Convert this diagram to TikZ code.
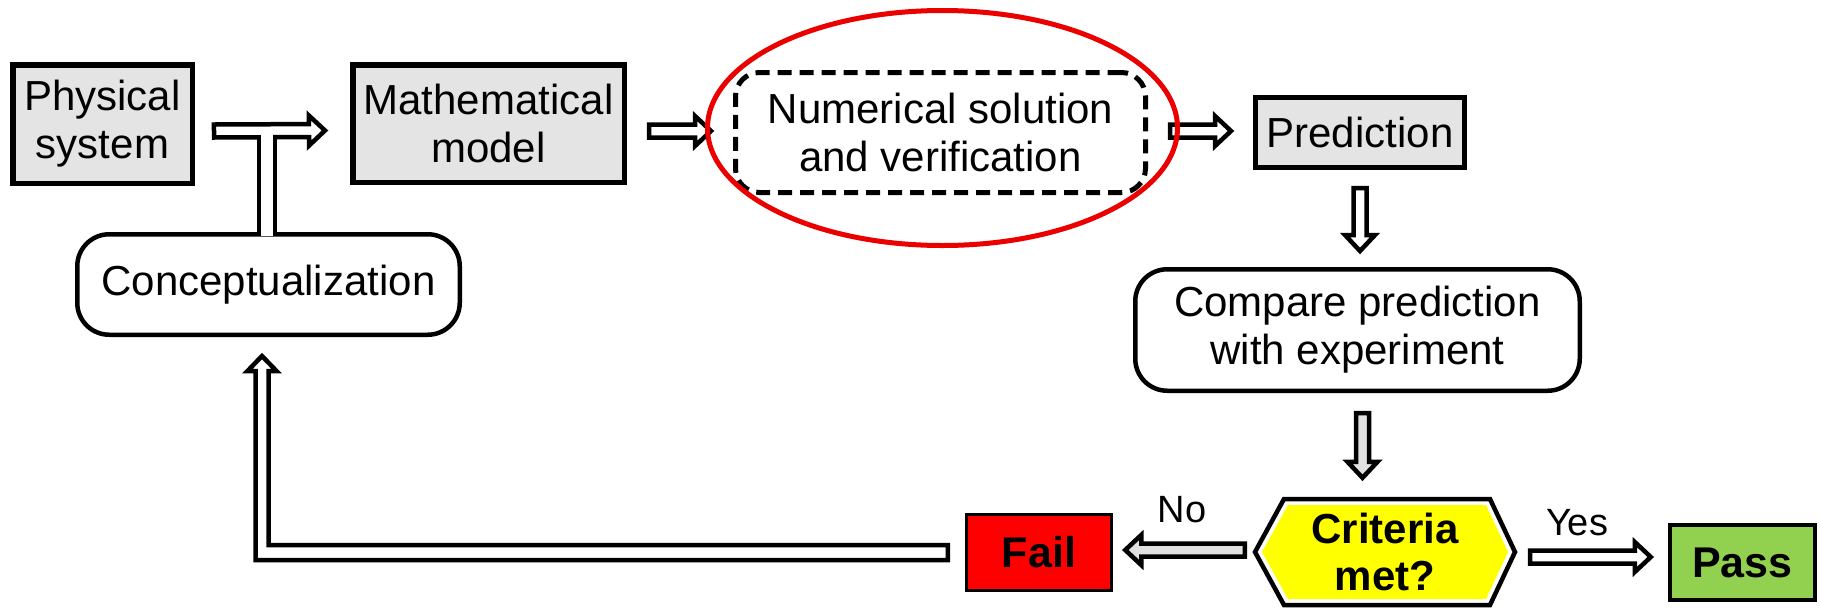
\documentclass[tikz,border=0pt]{standalone}
\usepackage{fontspec}
\setmainfont{Liberation Sans}
\usetikzlibrary{calc}
\definecolor{boxgray}{RGB}{228,228,228}
\definecolor{passgreen}{RGB}{146,208,80}
\definecolor{crityellow}{RGB}{255,255,0}
\definecolor{failred}{RGB}{255,0,0}
\definecolor{ringred}{RGB}{235,0,0}
\definecolor{arrgray}{RGB}{225,225,225}
\newcommand\bArSw{6.5pt}
\newcommand\bArHw{15pt}
\newcommand\bArHl{16pt}
\tikzset{
  lbl/.style={font=\fontsize{42}{48}\selectfont, align=center, text=black, inner sep=0pt},
  grayrect/.style={lbl, draw=black, line width=5.5pt, fill=boxgray},
  roundbox/.style={lbl, draw=black, line width=4.5pt, fill=white, rounded corners=32pt},
  dashbox/.style={lbl, draw=black, line width=5pt, fill=white, rounded corners=24pt, dash pattern=on 14pt off 8pt},
  boldbox/.style={lbl, font=\fontsize{43}{48}\selectfont\bfseries, draw=black},
  edgelbl/.style={font=\fontsize{38}{42}\selectfont, text=black, inner sep=0pt},
  blkline/.style={draw=black, line width=4.5pt, line join=miter},
  ring/.style={draw=ringred, line width=5pt}
}
\newcommand\blkarrow[3][white]{%
  \coordinate (bahb) at ($(#3)!\bArHl!(#2)$);
  \filldraw[blkline, fill=#1]
    ($(#2)!\bArSw!90:(#3)$) -- ($(bahb)!\bArSw!90:(#3)$) -- ($(bahb)!\bArHw!90:(#3)$) -- (#3)
    -- ($(bahb)!\bArHw!-90:(#3)$) -- ($(bahb)!\bArSw!-90:(#3)$) -- ($(#2)!\bArSw!-90:(#3)$) -- cycle;}
\begin{document}
\begin{tikzpicture}[x=1pt,y=-1pt]
\useasboundingbox[fill=white] (0,0) rectangle (1821,611);

% ---- nodes
\node[grayrect, minimum width=179.5pt, minimum height=118.5pt] (phys) at (102.5,124) {Physical\\system};
\node[grayrect, minimum width=271.5pt, minimum height=117.5pt] (math) at (488.5,123.5) {Mathematical\\model};
\node[dashbox, minimum width=410pt, minimum height=120pt] (num) at (940.5,132.5) {Numerical solution\\and verification};
\node[grayrect, line width=5pt, minimum width=209pt, minimum height=70pt] (pred) at (1360,132.5) {Prediction};
\node[roundbox, minimum width=382.5pt, minimum height=100.5pt] (concept) at (268.5,284.5) {Conceptualization};
\node[roundbox, minimum width=444.5pt, minimum height=121.5pt] (compare) at (1357.5,330) {Compare prediction\\with experiment};

% hexagon decision
\coordinate (critc) at (1385,552);
\filldraw[draw=black, line width=4.5pt, fill=white]
  ($(critc)+(-130,0)$) -- ($(critc)+(-101,-53)$) -- ($(critc)+(105,-53)$) -- ($(critc)+(130,0)$)
  -- ($(critc)+(105,53)$) -- ($(critc)+(-101,53)$) -- cycle;
\fill[crityellow]
  ($(critc)+(-123,0)$) -- ($(critc)+(-97,-47)$) -- ($(critc)+(101,-47)$) -- ($(critc)+(123,0)$)
  -- ($(critc)+(101,47)$) -- ($(critc)+(-97,47)$) -- cycle;
\node[lbl, font=\fontsize{42}{47}\selectfont\bfseries, minimum width=264pt, minimum height=110pt] (crit) at (critc) {Criteria\\met?};

\node[boldbox, fill=failred, line width=3.5pt, minimum width=145pt, minimum height=76pt] (fail) at (1039,552.5) {Fail};
\node[boldbox, fill=passgreen, line width=4.5pt, minimum width=145pt, minimum height=75pt] (pass) at (1742.5,562.5) {Pass};

\node[edgelbl] (nolbl) at (1182,510) {No};
\node[edgelbl] (yeslbl) at (1577,523) {Yes};

% ---- arrow end points
\coordinate (a1s) at ($(phys.east)+(19,7)$);
\coordinate (a1e) at ($(math.west)+(-25,7)$);
\coordinate (a2s) at ($(math.east)+(22,7.5)$);
\coordinate (a2e) at ($(num.west)+(-22,-1.5)$);
\coordinate (a3s) at ($(num.east)+(22,-1.5)$);
\coordinate (a3e) at ($(pred.west)+(-22,-1.5)$);
\coordinate (a4s) at ($(pred.south)+(0,18)$);
\coordinate (a4e) at ($(pred.south |- compare.north)+(0,-16)$);
\coordinate (a5s) at ($(compare.south)+(5,20)$);
\coordinate (a5e) at ($(compare.south |- crit.north)+(5,-19)$);
\coordinate (a6s) at ($(crit.west)+(-8,-2)$);
\coordinate (a6e) at ($(fail.east)+(12,-2.5)$);
\coordinate (a7s) at ($(crit.east)+(13,5)$);
\coordinate (a7e) at ($(pass.west)+(-17,-5.5)$);

% ---- T junction: Physical -> Mathematical, fed from Conceptualization
\coordinate (stm) at ($(concept.north)+(-1.5,0)$);
\coordinate (stj) at (stm |- a1s);
\filldraw[blkline, fill=white] ($(stm)+(-8,0)$) rectangle ($(stj)+(8,0)$);
\blkarrow{a1s}{a1e}
\fill[white] ($(stj)+(-5.7,2.5)$) rectangle ($(stm)+(5.7,3.5)$);

% ---- straight arrows
\blkarrow{a2s}{a2e}
\blkarrow{a3s}{a3e}
\blkarrow{a4s}{a4e}
\blkarrow[arrgray]{a5s}{a5e}
\blkarrow[arrgray]{a6s}{a6e}
\blkarrow{a7s}{a7e}

% ---- return arrow: Fail -> Conceptualization
\coordinate (rs) at ($(fail.west)+(-17,0)$);
\coordinate (rv) at ($(concept.south)+(-6.5,0)$);
\coordinate (rk) at (rv |- rs);
\filldraw[blkline, fill=white]
  ($(rs)+(0,-7.5)$) -- ($(rk)+(6.5,-7.5)$) -- ($(rv)+(6.5,34)$) -- ($(rv)+(14.5,34)$)
  -- ($(rv)+(0,19)$) -- ($(rv)+(-14.5,34)$) -- ($(rv)+(-6.5,34)$) -- ($(rk)+(-6.5,7.5)$)
  -- ($(rs)+(0,7.5)$) -- cycle;

% ---- red highlight ring
\draw[ring] ($(num.center)+(2,-4.5)$) ellipse [x radius=235, y radius=117.5];
\end{tikzpicture}
\end{document}
